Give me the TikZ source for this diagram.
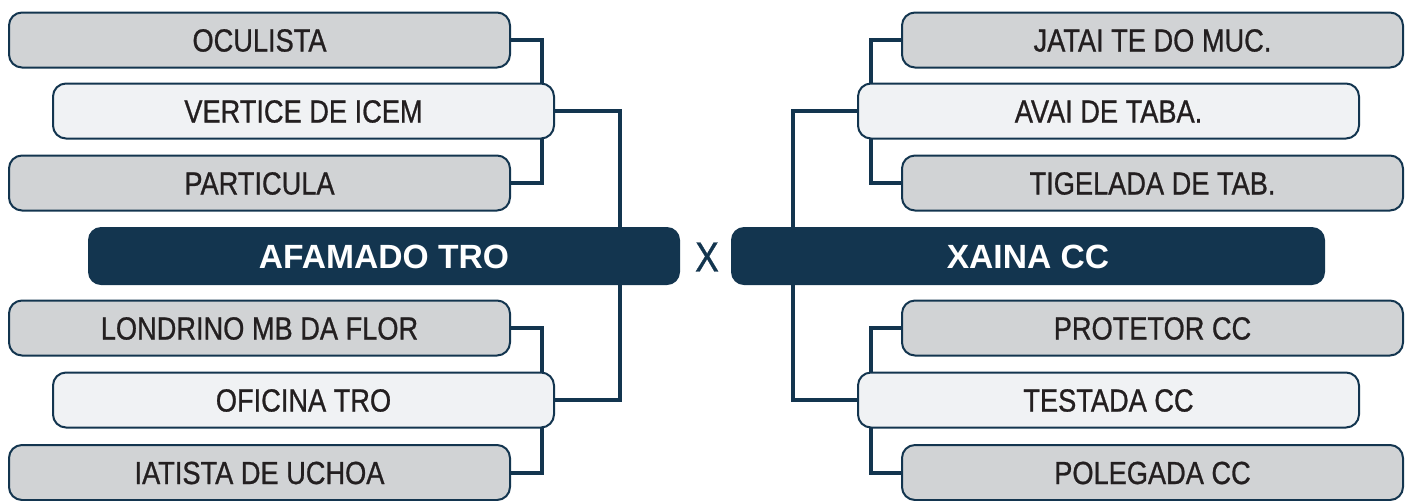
\documentclass[tikz,border=0pt]{standalone}
\usepackage{fontspec}
\setmainfont{Liberation Sans}
\newfontfamily\namefont{Liberation Sans}[FakeStretch=0.85,FakeBold=0.8]
\usetikzlibrary{positioning}

\definecolor{navy}{HTML}{13354F}
\definecolor{boxgray}{HTML}{D1D3D5}
\definecolor{boxlight}{HTML}{F0F2F4}
\definecolor{ink}{HTML}{231F20}

\tikzset{
  namebox/.style={draw=navy,line width=1pt,rounded corners=6.5pt,outer sep=0pt,
    minimum width=250.5pt,minimum height=27.5pt,inner sep=0pt,
    text=ink,font=\namefont\fontsize{16}{18}\selectfont,
    text height=11.5pt,text depth=0pt},
  outerbox/.style={namebox,fill=boxgray},
  innerbox/.style={namebox,fill=boxlight},
  teambox/.style={fill=navy,rounded corners=6.5pt,outer sep=0pt,inner sep=0pt,
    minimum height=29pt,text=white,font=\bfseries\fontsize{16.8}{18}\selectfont,
    text height=12pt,text depth=0pt},
  link/.style={draw=navy,line width=2pt}
}

\begin{document}
\begin{tikzpicture}[x=0.5pt,y=-0.5pt]
\useasboundingbox (0,0) rectangle (1412,500);

% bracket columns
\coordinate (lA) at (542,0);
\coordinate (lB) at (620,0);
\coordinate (rA) at (871,0);
\coordinate (rB) at (793,0);

% finalists
\node[teambox,minimum width=296pt] (m1) at (384,256) {AFAMADO TRO};
\node[teambox,minimum width=297pt] (m2) at (1028,256) {XAINA CC};
\node[text=navy,font=\namefont\fontsize{21}{24}\selectfont] (vs) at (707,257) {X};

% left side
\begin{scope}
\def\lout{1/40/{OCULISTA},2/183/{PARTICULA},3/328/{LONDRINO MB DA FLOR},4/472.5/{IATISTA DE UCHOA}}
\foreach \i/\yy/\name in \lout
  \node[outerbox] (lo\i) at (259.5,\yy) {\name};
\def\lin{1/111/{VERTICE DE ICEM},2/400/{OFICINA TRO}}
\foreach \i/\yy/\name in \lin
  \node[innerbox] (li\i) at (303.5,\yy) {\name};
\end{scope}

% right side
\begin{scope}
\def\rout{1/40/{JATAI TE DO MUC.},2/183/{TIGELADA DE TAB.},3/328/{PROTETOR CC},4/472.5/{POLEGADA CC}}
\foreach \i/\yy/\name in \rout
  \node[outerbox] (ro\i) at (1152.5,\yy) {\name};
\def\rin{1/111/{AVAI DE TABA.},2/400/{TESTADA CC}}
\foreach \i/\yy/\name in \rin
  \node[innerbox] (ri\i) at (1108.5,\yy) {\name};
\end{scope}

% connectors
\draw[link] (lo1.east) -| (li1.north -| lA);
\draw[link] (lo2.east) -| (li1.south -| lA);
\draw[link] (lo3.east) -| (li2.north -| lA);
\draw[link] (lo4.east) -| (li2.south -| lA);
\draw[link] (li1.east) -| (m1.north -| lB);
\draw[link] (li2.east) -| (m1.south -| lB);

\draw[link] (ro1.west) -| (ri1.north -| rA);
\draw[link] (ro2.west) -| (ri1.south -| rA);
\draw[link] (ro3.west) -| (ri2.north -| rA);
\draw[link] (ro4.west) -| (ri2.south -| rA);
\draw[link] (ri1.west) -| (m2.north -| rB);
\draw[link] (ri2.west) -| (m2.south -| rB);

\end{tikzpicture}
\end{document}
